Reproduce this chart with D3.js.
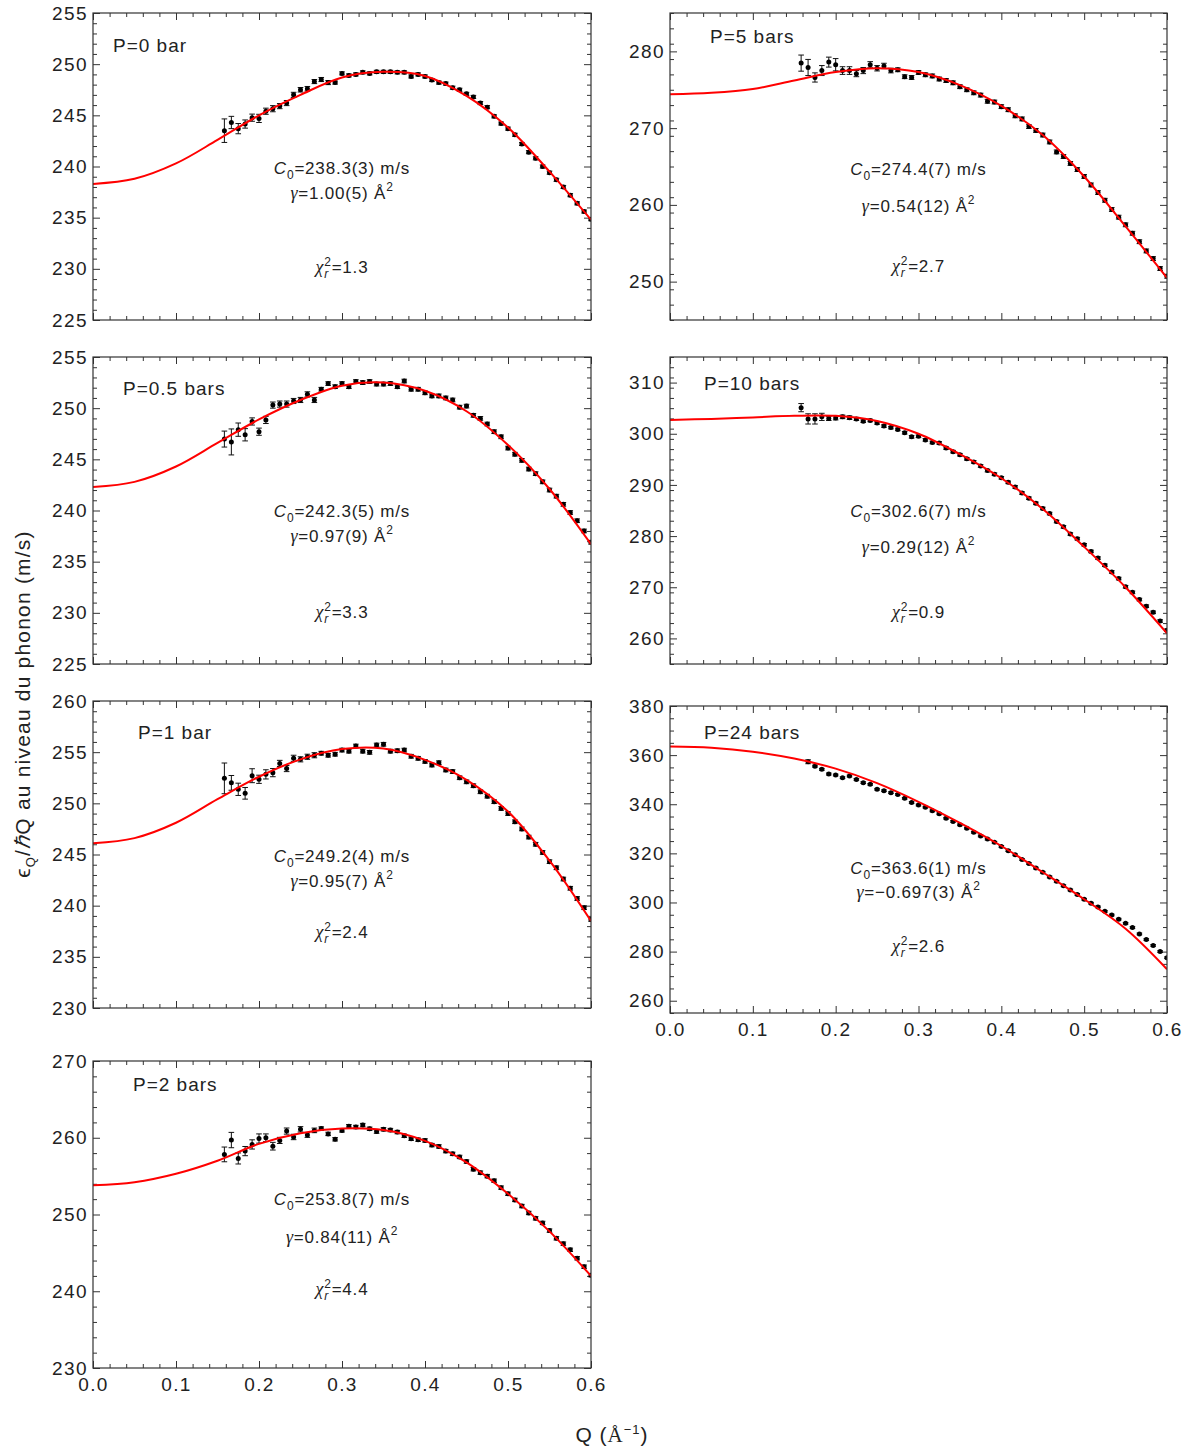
<!DOCTYPE html>
<html><head><meta charset="utf-8">
<script src="https://cdn.jsdelivr.net/npm/d3@7"></script>
<style>
body{margin:0;background:#fff;}
svg text{font-family:"Liberation Sans", Arial, Helvetica, sans-serif; fill:#222;}
</style></head><body>
<svg id="c" width="1192" height="1452"></svg>
<script>
// ---------- DATA ----------
const qPoints = [0.1583,0.1667,0.175,0.1833,0.1917,0.2,0.2083,0.2167,0.225,0.2333,0.2417,0.25,0.2583,0.2667,0.275,0.2833,0.2917,0.3,0.3083,0.3167,0.325,0.3333,0.3417,0.35,0.3583,0.3667,0.375,0.3833,0.3917,0.4,0.4083,0.4167,0.425,0.4333,0.4417,0.45,0.4583,0.4667,0.475,0.4833,0.4917,0.5,0.5083,0.5167,0.525,0.5333,0.5417,0.55,0.5583,0.5667,0.575,0.5833,0.5917,0.6];
const qCurve = [0,0.05,0.1,0.15,0.2,0.25,0.3,0.35,0.4,0.45,0.5,0.55,0.6];
const xTickLabels = [0.0,0.1,0.2,0.3,0.4,0.5,0.6];

const panelLabels = ["P=0 bar","P=0.5 bars","P=1 bar","P=2 bars","P=5 bars","P=10 bars","P=24 bars"];
const c0Values = ["238.3(3)","242.3(5)","249.2(4)","253.8(7)","274.4(7)","302.6(7)","363.6(1)"];
const gammaValues = ["1.00(5)","0.97(9)","0.95(7)","0.84(11)","0.54(12)","0.29(12)","\u22120.697(3)"];
const chiValues = ["1.3","3.3","2.4","4.4","2.7","0.9","2.6"];

const yDomains = [[225,255],[225,255],[230,260],[230,270],[245,285],[255,315],[255,380]];
const yTickLabels = [
  [225,230,235,240,245,250,255],
  [225,230,235,240,245,250,255],
  [230,235,240,245,250,255,260],
  [230,240,250,260,270],
  [250,260,270,280],
  [260,270,280,290,300,310],
  [260,280,300,320,340,360,380]
];
const yMinorSteps = [1,1,1,2,2,2,5];

// fitted curves (values at qCurve)
const fitP0  = [238.3,238.8,240.3,242.6,245.0,247.0,248.7,249.25,248.85,246.9,243.8,239.5,234.8];
const fitP05 = [242.3,242.8,244.3,246.6,248.9,250.8,252.2,252.5,251.7,249.7,246.4,242.1,236.7];
const fitP1  = [246.1,246.6,248.1,250.4,252.6,254.3,255.3,255.35,254.25,252.3,249.2,244.4,238.5];
const fitP2  = [253.8,254.2,255.3,257.0,259.2,260.6,261.2,261.0,259.6,256.8,252.7,247.8,242.0];
const fitP5  = [274.4,274.6,275.1,276.2,277.3,277.8,277.3,275.6,272.9,269.1,263.7,257.2,250.5];
const fitP10 = [302.7,302.9,303.2,303.5,303.5,302.5,300.0,296.0,291.3,285.3,277.9,270.0,261.0];
const fitP24 = [363.5,363.0,361.4,358.6,354.5,348.6,341.0,332.4,323.0,312.3,301.3,289.3,272.8];

// measured points (values at qPoints)
const dataP0 = [243.5,244.3,243.7,244.15,244.77,244.7,245.4,245.65,245.9,246.2,247.0,247.5,247.6,248.3,248.5,248.2,248.2,249.1,248.9,249.0,249.2,249.1,249.25,249.25,249.25,249.2,249.2,248.8,249.0,248.8,248.45,248.2,248.1,247.7,247.5,247.1,246.8,246.2,245.8,244.9,244.2,243.7,243.1,242.2,241.4,240.8,240.0,239.4,238.7,238.0,237.2,236.4,235.6,234.85];
const dataP05 = [246.98,246.7,247.9,247.4,248.7,247.7,248.85,250.3,250.4,250.4,250.7,250.8,251.35,250.8,251.85,252.4,252.1,252.4,252.1,252.6,252.5,252.6,252.35,252.35,252.4,252.1,252.65,251.85,251.85,251.5,251.2,251.2,251.0,250.8,250.1,250.2,249.3,249.0,248.45,247.7,247.2,246.1,245.5,244.9,244.05,243.6,242.8,242.0,241.4,240.6,239.8,239.0,238.0,236.9];
const dataP1 = [252.44,252.0,251.37,250.98,252.7,252.35,252.83,253.0,253.9,253.4,254.4,254.3,254.55,254.7,254.9,254.7,254.8,255.2,255.1,255.6,255.1,254.98,255.7,255.77,255.1,255.14,255.2,254.6,254.4,254.1,253.74,253.97,253.26,253.1,252.5,252.1,251.72,251.13,250.7,250.16,249.5,249.0,248.2,247.5,246.7,246.0,245.2,244.3,243.7,242.6,241.7,240.7,239.8,238.66];
const dataP2 = [257.83,259.7,257.3,258.26,259.13,259.9,260.0,258.9,259.65,260.87,260.1,261.1,260.35,260.96,261.2,260.5,259.8,260.96,261.5,261.4,261.65,261.17,260.8,261.1,261.0,260.74,260.26,259.87,259.74,259.65,259.04,258.87,258.26,257.9,257.5,256.9,255.9,255.45,255.0,254.4,253.5,252.7,251.9,251.1,250.2,249.5,248.9,247.9,246.9,246.2,245.4,244.3,243.2,242.1];
const dataP5 = [278.47,277.9,276.6,277.5,278.6,278.26,277.5,277.5,277.1,277.5,278.26,277.8,278.1,277.5,277.6,276.7,276.6,277.25,276.95,276.8,276.4,276.2,275.9,275.4,275.0,274.6,274.3,273.5,273.4,272.8,272.4,271.6,271.2,270.2,269.7,269.1,268.2,266.9,266.3,265.4,264.6,263.7,262.6,261.6,260.6,259.4,258.4,257.4,256.3,255.2,254.0,253.0,251.7,250.7];
const dataP10 = [305.1,302.9,302.9,303.3,303.0,303.1,303.3,303.15,302.9,302.45,302.6,302.1,301.5,301.2,300.85,300.2,299.4,299.5,298.8,298.3,298.2,297.2,296.5,295.9,295.1,294.5,293.7,292.8,292.1,291.4,290.5,289.6,288.4,287.4,286.4,285.4,284.4,282.85,281.8,280.4,279.5,278.3,277.0,275.7,274.3,273.0,271.7,270.1,269.0,267.6,266.3,265.1,263.4,261.6];
const dataP24 = [null,357.3,355.5,354.2,352.3,351.9,350.8,351.5,350.1,348.8,348.1,346.1,345.5,344.7,344.0,342.4,340.7,339.7,338.8,337.3,336.1,334.3,333.0,331.6,330.25,328.6,327.1,325.8,324.5,322.8,321.1,319.4,317.5,315.9,314.0,312.3,310.4,308.6,306.8,305.1,303.3,301.3,299.7,298.2,296.4,294.9,293.2,291.5,289.8,287.2,284.9,282.5,280.0,277.5];

// error bars: first points listed, later points use the default value
const errP0  = [1.15,0.6,0.5,0.4,0.35,0.4,0.3,0.3,0.25,0.25,0.25,0.22,0.22,0.2,0.2,0.2];
const errP05 = [0.78,1.27,0.65,0.6,0.35,0.35,0.35,0.3,0.3,0.3,0.25,0.25,0.25,0.25];
const errP1  = [1.5,0.72,0.6,0.57,0.68,0.4,0.45,0.4,0.3,0.3,0.3,0.25,0.25,0.25];
const errP2  = [0.96,1.0,0.72,0.6,0.6,0.6,0.5,0.5,0.4,0.4,0.35,0.35,0.3,0.3];
const errP5  = [1.05,1.05,0.6,0.65,0.65,0.8,0.5,0.5,0.4,0.4,0.4,0.35,0.35,0.3];
const errP10 = [0.8,1.0,1.0,0.7,0.4,0.4,0.35,0.35,0.3];
const errP24 = [null,0.8,0.4,0.4,0.4];
const errDefault = [0.15,0.18,0.18,0.22,0.25,0.25,0.35];

const fits = [fitP0,fitP05,fitP1,fitP2,fitP5,fitP10,fitP24];
const datas = [dataP0,dataP05,dataP1,dataP2,dataP5,dataP10,dataP24];
const errs = [errP0,errP05,errP1,errP2,errP5,errP10,errP24];

// ---------- LAYOUT ----------
const cols = [{x0:93,x1:591},{x0:670,x1:1167}];
const panelBox = [
  {col:0, top:13},{col:0, top:357},{col:0, top:701},{col:0, top:1061},
  {col:1, top:13},{col:1, top:357},{col:1, top:706}
];
const panelH = 307;
const labelPos = [[113,52],[123,395],[138,739],[133,1091],[710,43],[704,390],[704,739]];
const annoOff = [[161,186,260],[160,185,261],[161,186,237],[144,182,234],[162,199,259],[160,196,261],[168,192,246]];
const showX = [false,false,false,true,false,false,true];

const svg = d3.select("#c");
const FONT = '"Liberation Sans", Arial, sans-serif';
const SERIF = '"Liberation Serif", "Times New Roman", serif';

panelBox.forEach((pb,i)=>{
  const c = cols[pb.col];
  const top = pb.top, bot = pb.top + panelH;
  const x = d3.scaleLinear().domain([0,0.6]).range([c.x0,c.x1]);
  const y = d3.scaleLinear().domain(yDomains[i]).range([bot,top]);
  const g = svg.append("g");

  const clipId = "clip"+i;
  svg.append("clipPath").attr("id",clipId).append("rect")
    .attr("x",c.x0).attr("y",top).attr("width",c.x1-c.x0).attr("height",panelH);

  const major = yTickLabels[i];
  const dom = yDomains[i];
  const minor = d3.range(dom[0], dom[1]+1e-9, yMinorSteps[i]).filter(v=>!major.includes(v));
  const xMajor = xTickLabels;
  const xMinor = d3.range(0,0.6001,0.02).filter(v=>Math.abs(Math.round(v*10)-v*10)>1e-6);

  const styleAxis = sel => {
    sel.select(".domain").remove();
    sel.selectAll("line").attr("stroke","#333").attr("stroke-width",1);
    sel.selectAll("text").attr("fill","#222").style("font-family",FONT)
      .style("font-size","19px").style("letter-spacing","1.4px");
  };

  g.append("g").attr("transform",`translate(${c.x0},0)`)
    .call(d3.axisLeft(y).tickValues(major).tickSizeInner(-7).tickSizeOuter(0).tickPadding(5).tickFormat(d3.format("d")))
    .call(styleAxis);
  g.append("g").attr("transform",`translate(${c.x0},0)`)
    .call(d3.axisLeft(y).tickValues(minor).tickSizeInner(-4).tickSizeOuter(0).tickFormat(""))
    .call(styleAxis);
  g.append("g").attr("transform",`translate(${c.x1},0)`)
    .call(d3.axisRight(y).tickValues(major).tickSizeInner(-7).tickSizeOuter(0).tickFormat(""))
    .call(styleAxis);
  g.append("g").attr("transform",`translate(${c.x1},0)`)
    .call(d3.axisRight(y).tickValues(minor).tickSizeInner(-4).tickSizeOuter(0).tickFormat(""))
    .call(styleAxis);
  g.append("g").attr("transform",`translate(0,${bot})`)
    .call(d3.axisBottom(x).tickValues(xMajor).tickSizeInner(-7).tickSizeOuter(0).tickPadding(10)
      .tickFormat(showX[i] ? d3.format(".1f") : ""))
    .call(styleAxis);
  g.append("g").attr("transform",`translate(0,${bot})`)
    .call(d3.axisBottom(x).tickValues(xMinor).tickSizeInner(-4).tickSizeOuter(0).tickFormat(""))
    .call(styleAxis);
  g.append("g").attr("transform",`translate(0,${top})`)
    .call(d3.axisTop(x).tickValues(xMajor).tickSizeInner(-7).tickSizeOuter(0).tickFormat(""))
    .call(styleAxis);
  g.append("g").attr("transform",`translate(0,${top})`)
    .call(d3.axisTop(x).tickValues(xMinor).tickSizeInner(-4).tickSizeOuter(0).tickFormat(""))
    .call(styleAxis);

  // data with error bars
  const pts = qPoints.map((q,k)=>({q, v:datas[i][k], e:(errs[i][k]!==undefined? errs[i][k] : errDefault[i])}))
    .filter(d=>d.v!==null && d.v!==undefined);
  const dg = g.append("g").attr("clip-path",`url(#${clipId})`);
  dg.selectAll("line.eb").data(pts).join("line").attr("class","eb")
    .attr("x1",d=>x(d.q)).attr("x2",d=>x(d.q))
    .attr("y1",d=>y(d.v-d.e)).attr("y2",d=>y(d.v+d.e))
    .attr("stroke","#111").attr("stroke-width",1);
  dg.selectAll("line.cap1").data(pts).join("line").attr("class","cap1")
    .attr("x1",d=>x(d.q)-2.8).attr("x2",d=>x(d.q)+2.8)
    .attr("y1",d=>y(d.v+d.e)).attr("y2",d=>y(d.v+d.e))
    .attr("stroke","#111").attr("stroke-width",1);
  dg.selectAll("line.cap2").data(pts).join("line").attr("class","cap2")
    .attr("x1",d=>x(d.q)-2.8).attr("x2",d=>x(d.q)+2.8)
    .attr("y1",d=>y(d.v-d.e)).attr("y2",d=>y(d.v-d.e))
    .attr("stroke","#111").attr("stroke-width",1);
  dg.selectAll("circle").data(pts).join("circle")
    .attr("cx",d=>x(d.q)).attr("cy",d=>y(d.v)).attr("r",2.5).attr("fill","#000");

  // fitted curve
  const line = d3.line().x(d=>x(d[0])).y(d=>y(d[1])).curve(d3.curveCatmullRom.alpha(0.5));
  g.append("path").attr("clip-path",`url(#${clipId})`)
    .datum(qCurve.map((q,k)=>[q,fits[i][k]]))
    .attr("d",line).attr("fill","none").attr("stroke","#ff0000").attr("stroke-width",2);

  // frame
  g.append("rect").attr("x",c.x0).attr("y",top).attr("width",c.x1-c.x0).attr("height",panelH)
    .attr("fill","none").attr("stroke","#333").attr("stroke-width",1.2);

  // panel label
  g.append("text").attr("x",labelPos[i][0]).attr("y",labelPos[i][1])
    .style("font-size","19px").style("letter-spacing","1px").text(panelLabels[i]);

  // annotations
  const cx = (c.x0+c.x1)/2;
  const ao = annoOff[i];
  const t1 = g.append("text").attr("x",cx).attr("y",top+ao[0]).attr("text-anchor","middle")
    .style("font-size","17px").style("letter-spacing","0.8px");
  t1.append("tspan").style("font-style","italic").text("C");
  t1.append("tspan").attr("dy",5).style("font-size","12px").text("0");
  t1.append("tspan").attr("dy",-5).text("="+c0Values[i]+" m/s");

  const t2 = g.append("text").attr("x",cx).attr("y",top+ao[1]).attr("text-anchor","middle")
    .style("font-size","17px").style("letter-spacing","0.8px");
  t2.append("tspan").style("font-style","italic").style("font-family",SERIF).style("font-size","18px").text("\u03B3");
  t2.append("tspan").text("="+gammaValues[i]+" \u00C5");
  t2.append("tspan").attr("dy",-8).style("font-size","12px").text("2");

  const t3 = g.append("text").attr("x",cx).attr("y",top+ao[2]).attr("text-anchor","middle")
    .style("font-size","17px").style("letter-spacing","0.8px");
  t3.append("tspan").style("font-style","italic").style("font-family",SERIF).style("font-size","18px").text("\u03C7");
  t3.append("tspan").attr("dy",5).style("font-size","12px").style("font-style","italic").text("r");
  t3.append("tspan").attr("dx",-5).attr("dy",-12).style("font-size","12px").text("2");
  t3.append("tspan").attr("dy",7).text("="+chiValues[i]);
});

// axis titles
const yt = svg.append("text").attr("transform","translate(30,704) rotate(-90)")
  .attr("text-anchor","middle").style("font-size","21px").style("letter-spacing","1.2px");
yt.append("tspan").text("\u03F5");
yt.append("tspan").attr("dy",5).style("font-size","13px").text("Q");
yt.append("tspan").attr("dy",-5).text("/");
yt.append("tspan").style("font-style","italic").text("\u210F");
yt.append("tspan").text("Q au niveau du phonon (m/s)");

const xt = svg.append("text").attr("x",612).attr("y",1442).attr("text-anchor","middle")
  .style("font-size","21px").style("letter-spacing","1px");
xt.append("tspan").text("Q (");
xt.append("tspan").style("font-family",SERIF).text("\u00C5");
xt.append("tspan").attr("dy",-8).style("font-size","13px").text("\u22121");
xt.append("tspan").attr("dy",8).text(")");
</script>
</body></html>
